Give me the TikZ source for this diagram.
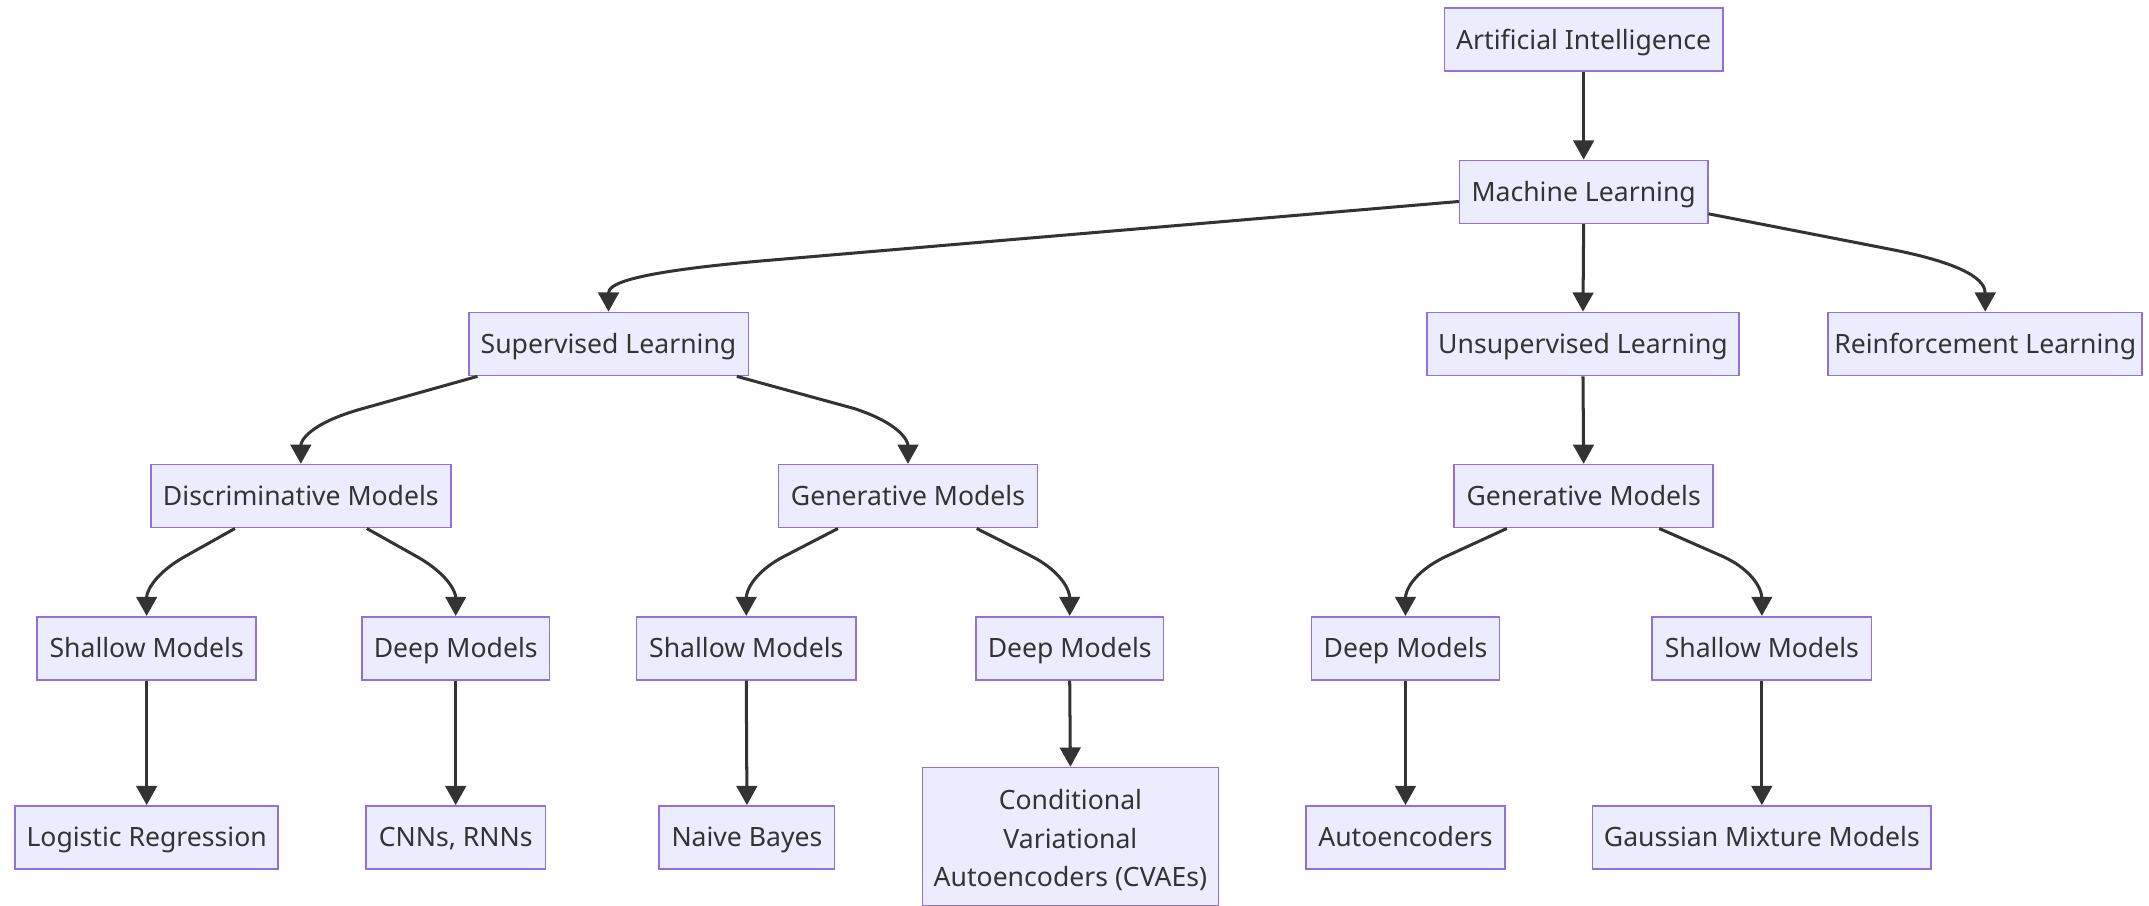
\documentclass[tikz,border=0pt]{standalone}
\usepackage{fontspec}
\setmainfont{Noto Sans}
\usetikzlibrary{arrows.meta}
\definecolor{boxfill}{HTML}{ECECFF}
\definecolor{boxdraw}{HTML}{9370DB}
\definecolor{ink}{HTML}{333333}
\tikzset{
  box/.style={draw=boxdraw, fill=boxfill, line width=0.6pt, inner sep=0pt,
    minimum height=23pt, minimum width=#1, text=ink, font=\fontsize{9.7}{14}\selectfont,
    align=center, text height=8.4pt, text depth=1.6pt},
  edge/.style={draw=ink, line width=1.1pt, -{Triangle[length=7pt,width=7.5pt]}}
}
\begin{document}
\begin{tikzpicture}[x=0.5pt,y=-0.5pt]
\useasboundingbox[fill=white] (0,0) rectangle (1568,661);
% level 0-2
\node[box=101.5pt] (ai) at (1155.5,29) {Artificial Intelligence};
\node[box=90.5pt] (ml) at (1155.5,140) {Machine Learning};
\node[box=102pt] (sup) at (444,251) {Supervised Learning};
\node[box=114pt] (un) at (1155,251) {Unsupervised Learning};
\node[box=114.5pt] (re) at (1448.5,251) {Reinforcement Learning};
% level 3
\node[box=109.5pt] (disc) at (219.5,362) {Discriminative Models};
\node[box=94.5pt] (gena) at (662.5,362) {Generative Models};
\node[box=94.5pt] (genb) at (1155.5,362) {Generative Models};
% level 4
\node[box=80pt] (sa) at (107,473) {Shallow Models};
\node[box=68.5pt] (da) at (332.5,473) {Deep Models};
\node[box=80pt] (sb) at (544.5,473) {Shallow Models};
\node[box=68.5pt] (db) at (780.5,473) {Deep Models};
\node[box=68.5pt] (dc) at (1025.5,473) {Deep Models};
\node[box=80pt] (sc) at (1285.5,473) {Shallow Models};
% level 5
\node[box=96pt] (lr) at (107,611) {Logistic Regression};
\node[box=65.5pt] (cnn) at (332.5,611) {CNNs, RNNs};
\node[box=64pt] (nb) at (545,611) {Naive Bayes};
\node[box=108pt, minimum height=50.5pt, text height=, text depth=] (cvae) at (781,610.5) {\rule{0pt}{2pt}\\[-6pt]Conditional\\Variational\\Autoencoders (CVAEs)};
\node[box=72.5pt] (ae) at (1025.5,611) {Autoencoders};
\node[box=123.5pt] (gmm) at (1285.5,611) {Gaussian Mixture Models};
% edges
\draw[edge] (ai.south) -- (ml.north);
\draw[edge] (ml.south) -- (un.north);
\draw[edge] ([yshift=-3.5pt]ml.west) -- (560,190) .. controls (455,199) and (444,208) .. (sup.north);
\draw[edge] ([yshift=-8pt]ml.east) -- (1380,182) .. controls (1436,193) and (1448.5,205) .. (re.north);
\draw[edge] (un.south) -- (genb.north);
\draw[edge] ([xshift=3.5pt]sup.south west) -- (265,298) .. controls (225,309) and (219.5,322) .. (disc.north);
\draw[edge] ([xshift=-4.5pt]sup.south east) -- (623,298) .. controls (657,309) and (662.5,322) .. (gena.north);
\draw[edge] ([xshift=31pt]disc.south west) -- (135,406) .. controls (112,419) and (107,432) .. (sa.north);
\draw[edge] ([xshift=-31pt]disc.south east) -- (304,406) .. controls (327,419) and (332.5,432) .. (da.north);
\draw[edge] ([xshift=22pt]gena.south west) -- (572,406) .. controls (549,418) and (544.5,432) .. (sb.north);
\draw[edge] ([xshift=-22.5pt]gena.south east) -- (753,406) .. controls (776,418) and (780.5,432) .. (db.north);
\draw[edge] ([xshift=19.5pt]genb.south west) -- (1055,406) .. controls (1030,418) and (1025.5,432) .. (dc.north);
\draw[edge] ([xshift=-20pt]genb.south east) -- (1257,406) .. controls (1281,417) and (1285.5,432) .. (sc.north);
\draw[edge] (sa.south) -- (lr.north);
\draw[edge] (da.south) -- (cnn.north);
\draw[edge] (sb.south) -- (nb.north);
\draw[edge] (db.south) -- (cvae.north);
\draw[edge] (dc.south) -- (ae.north);
\draw[edge] (sc.south) -- (gmm.north);
\end{tikzpicture}
\end{document}
